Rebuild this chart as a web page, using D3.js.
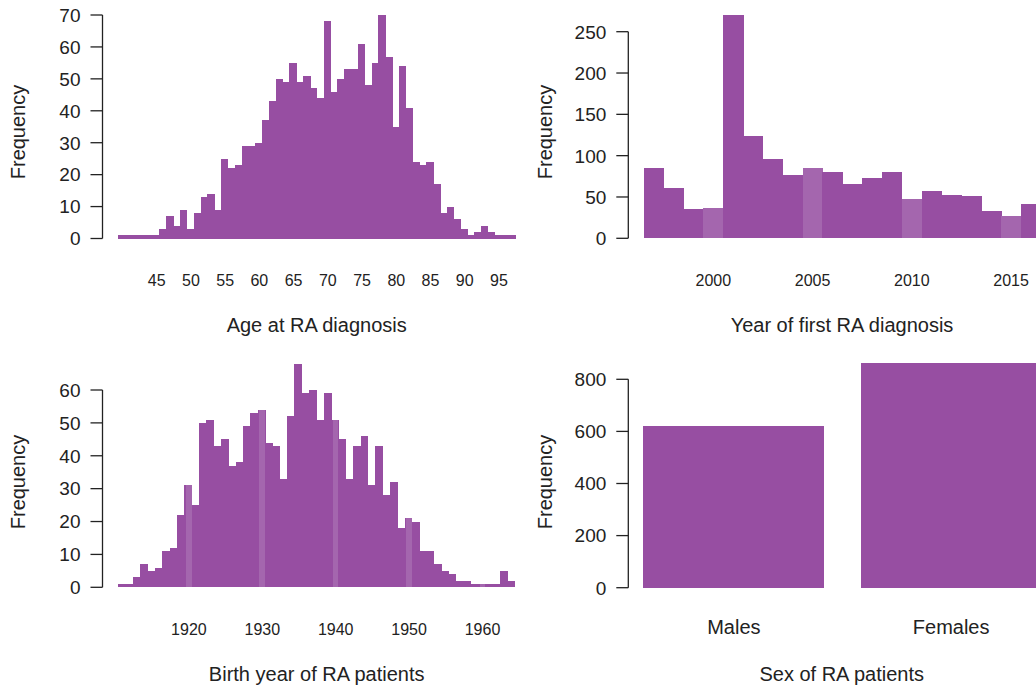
<!DOCTYPE html>
<html>
<head>
<meta charset="utf-8">
<script src="https://cdn.jsdelivr.net/npm/d3@7"></script>
<style>
  html, body { margin: 0; padding: 0; background: #fff; }
  svg { display: block; }
  text { font-family: "Liberation Sans", Arial, Helvetica, sans-serif; fill: #222; }
  rect.bar, rect.stripe { shape-rendering: crispEdges; }
</style>
</head>
<body>
<svg id="chart" width="1036" height="690"></svg>
<script>
// ---------- DATA ----------
// Panel 1: Age at RA diagnosis (1-year bins, first bin starts at 39.4)
const ageBinStart = 39.4;
const ageCounts = [1,1,1,1,1,1,3,7,4,9,3,8,13,14,9,25,22,23,29,29,30,37,43,50,49,55,49,51,
                   47,44,68,46,50,53,53,61,48,55,70,57,35,54,41,24,23,24,17,8,10,6,3,1,2,4,2,1,1,1];
const ageTicks = [45,50,55,60,65,70,75,80,85,90,95];
const ageYTicks = [0,10,20,30,40,50,60,70];

// Panel 2: Year of first RA diagnosis (bins centred on years)
const diagYears = [1997,1998,1999,2000,2001,2002,2003,2004,2005,2006,2007,2008,2009,2010,2011,2012,2013,2014,2015,2016];
const diagCounts = [85,61,36,37,270,124,96,77,85,80,66,73,80,47,57,53,51,33,27,41];
const diagTicks = [2000,2005,2010,2015];
const diagYTicks = [0,50,100,150,200,250];

// Panel 3: Birth year of RA patients (1-year bins, first bin starts at 1910.38)
const birthBinStart = 1910.38;
const birthCounts = [1,1,3,7,5,6,11,12,22,31,25,50,51,43,45,37,38,49,53,54,44,43,33,52,68,59,60,51,
                     59,51,45,33,43,46,31,43,28,32,18,21,20,11,11,7,5,4,2,2,1,1,1,1,5,2];
const birthTicks = [1920,1930,1940,1950,1960];
const birthYTicks = [0,10,20,30,40,50,60];

// Panel 4: Sex of RA patients
const sexCategories = ["Males","Females"];
const sexCounts = [620,862];
const sexYTicks = [0,200,400,600,800];

// ---------- STYLE ----------
const barColor = "#974ea2";
const lightColor = "#a466ae";
const axisColor = "#222";

const svg = d3.select("#chart");
svg.append("rect").attr("width",1036).attr("height",690).attr("fill","#fff");

function yAxis(g, y, ticks, axisX) {
  const a = g.append("g");
  a.append("line")
    .attr("x1", axisX).attr("x2", axisX)
    .attr("y1", y(ticks[0])).attr("y2", y(ticks[ticks.length-1]))
    .attr("stroke", axisColor).attr("stroke-width", 1.3);
  a.selectAll("line.t").data(ticks).join("line").attr("class","t")
    .attr("x1", axisX - 12).attr("x2", axisX)
    .attr("y1", d => y(d)).attr("y2", d => y(d))
    .attr("stroke", axisColor).attr("stroke-width", 1.3);
  a.selectAll("text").data(ticks).join("text")
    .attr("x", axisX - 22).attr("y", d => y(d)).attr("dy","0.36em")
    .attr("text-anchor","end").attr("font-size", 19)
    .text(d => d);
}
function xLabels(g, x, ticks, yBase) {
  g.append("g").selectAll("text").data(ticks).join("text")
    .attr("x", d => x(d)).attr("y", yBase)
    .attr("text-anchor","middle").attr("font-size", 16)
    .text(d => d);
}
function yTitle(g, xb, yc) {
  g.append("text").attr("transform", `translate(${xb},${yc}) rotate(-90)`)
    .attr("text-anchor","middle").attr("font-size", 20).text("Frequency");
}
function xTitle(g, xc, yb, label) {
  g.append("text").attr("x", xc).attr("y", yb)
    .attr("text-anchor","middle").attr("font-size", 20).text(label);
}

// ---------- Panel 1 ----------
{
  const g = svg.append("g");
  const x = d3.scaleLinear().domain([45,95]).range([156.7, 498.95]);
  const y = d3.scaleLinear().domain([0,70]).range([238.5, 15]);
  g.selectAll("rect.bar").data(ageCounts).join("rect").attr("class","bar")
    .attr("x", (d,i) => x(ageBinStart + i))
    .attr("width", (d,i) => x(ageBinStart + i + 1) - x(ageBinStart + i) + 0.5)
    .attr("y", d => y(d)).attr("height", d => y(0) - y(d))
    .attr("fill", barColor);
  yAxis(g, y, ageYTicks, 102.5);
  xLabels(g, x, ageTicks, 285.5);
  yTitle(g, 25, 132);
  xTitle(g, 316.7, 331.5, "Age at RA diagnosis");
}

// ---------- Panel 2 ----------
{
  const g = svg.append("g");
  const x = d3.scaleLinear().domain([2000,2015]).range([713.3, 1011.05]);
  const y = d3.scaleLinear().domain([0,250]).range([238.3, 31.7]);
  g.selectAll("rect.bar").data(diagYears).join("rect").attr("class","bar")
    .attr("x", d => x(d - 0.5))
    .attr("width", d => x(d + 0.5) - x(d - 0.5) + 0.5)
    .attr("y", (d,i) => y(diagCounts[i])).attr("height", (d,i) => y(0) - y(diagCounts[i]))
    .attr("fill", d => diagTicks.includes(d) ? lightColor : barColor);
  yAxis(g, y, diagYTicks, 628.3);
  xLabels(g, x, diagTicks, 285.5);
  yTitle(g, 552, 132);
  xTitle(g, 842, 331.5, "Year of first RA diagnosis");
}

// ---------- Panel 3 ----------
{
  const g = svg.append("g");
  const x = d3.scaleLinear().domain([1920,1960]).range([188.9, 482.5]);
  const y = d3.scaleLinear().domain([0,60]).range([587.3, 390]);
  g.selectAll("rect.bar").data(birthCounts).join("rect").attr("class","bar")
    .attr("x", (d,i) => x(birthBinStart + i))
    .attr("width", (d,i) => x(birthBinStart + i + 1) - x(birthBinStart + i) + 0.5)
    .attr("y", d => y(d)).attr("height", d => y(0) - y(d))
    .attr("fill", barColor);
  // lighter stripes at the tick years, over the bar that contains them
  g.selectAll("rect.stripe").data(birthTicks).join("rect").attr("class","stripe")
    .attr("x", d => x(d - 0.4))
    .attr("width", d => x(d + 0.37) - x(d - 0.4))
    .attr("y", d => y(birthCounts[Math.floor(d - birthBinStart)]))
    .attr("height", d => y(0) - y(birthCounts[Math.floor(d - birthBinStart)]))
    .attr("fill", lightColor);
  yAxis(g, y, birthYTicks, 102.5);
  xLabels(g, x, birthTicks, 635);
  yTitle(g, 25, 482);
  xTitle(g, 316.7, 681, "Birth year of RA patients");
}

// ---------- Panel 4 ----------
{
  const g = svg.append("g");
  const x = d3.scaleBand().domain(sexCategories).range([643.3, 1041.7])
    .paddingInner(0.2/1.2).paddingOuter(0);
  const y = d3.scaleLinear().domain([0,800]).range([587.7, 379.3]);
  g.selectAll("rect.bar").data(sexCategories).join("rect").attr("class","bar")
    .attr("x", d => x(d)).attr("width", x.bandwidth())
    .attr("y", (d,i) => y(sexCounts[i])).attr("height", (d,i) => y(0) - y(sexCounts[i]))
    .attr("fill", barColor);
  yAxis(g, y, sexYTicks, 628.3);
  g.append("g").selectAll("text").data(sexCategories).join("text")
    .attr("x", d => x(d) + x.bandwidth()/2).attr("y", 634)
    .attr("text-anchor","middle").attr("font-size", 20)
    .text(d => d);
  yTitle(g, 552, 482);
  xTitle(g, 841.7, 681, "Sex of RA patients");
}
</script>
</body>
</html>
